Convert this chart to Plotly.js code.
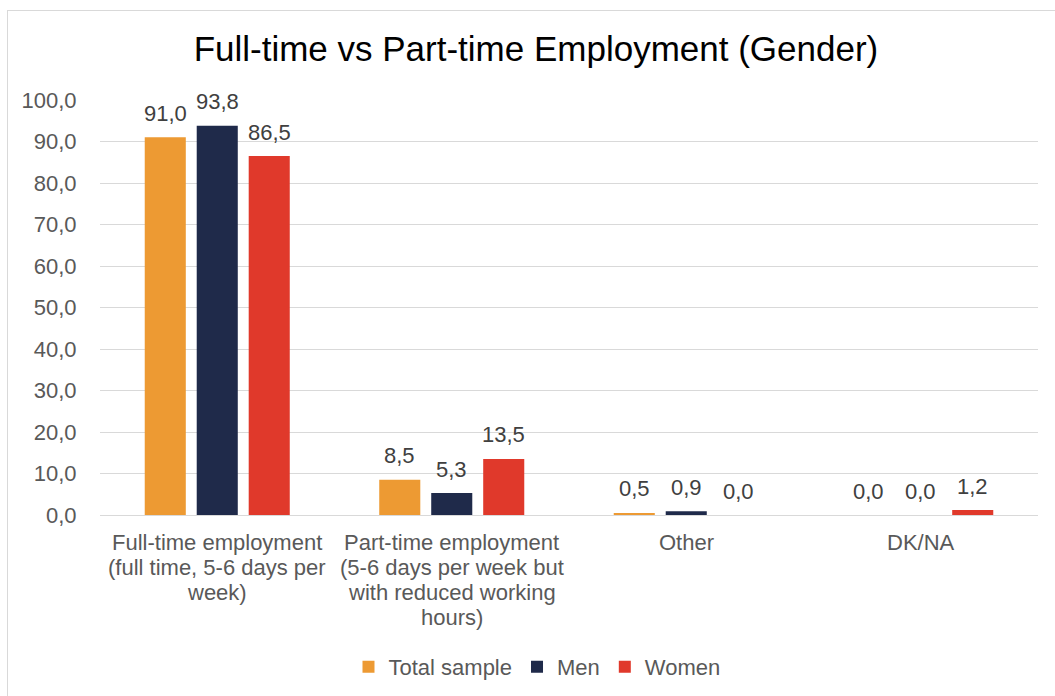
<!DOCTYPE html>
<html>
<head>
<meta charset="utf-8">
<script src="https://cdn.plot.ly/plotly-3.0.1.min.js"></script>
<style>
  html, body { margin: 0; padding: 0; background: #fff; }
  #chart { width: 1055px; height: 696px; position: absolute; left: 0; top: 0; }
  #frame { position: absolute; left: 7px; top: 10px; width: 1060px; height: 700px; border: 1px solid #d9d9d9; pointer-events: none; }
</style>
</head>
<body>
<div id="chart"></div>
<div id="frame"></div>
<script>
const categories = ["Full-time employment", "Part-time employment", "Other", "DK/NA"];
const categoryLabelLines = [
  ["Full-time employment", "(full time, 5-6 days per", "week)"],
  ["Part-time employment", "(5-6 days per week but", "with reduced working", "hours)"],
  ["Other"],
  ["DK/NA"]
];
const seriesNames = ["Total sample", "Men", "Women"];
const totalSample = [91.0, 8.5, 0.5, 0.0];
const men = [93.8, 5.3, 0.9, 0.0];
const women = [86.5, 13.5, 0.0, 1.2];
const colors = ["#ED9A33", "#1F2A4A", "#E0392B"];
const yTicks = [0, 10, 20, 30, 40, 50, 60, 70, 80, 90, 100];

const FONT = "Liberation Sans, Arial, sans-serif";
const BARGAP = 0.335;
const allValues = [totalSample, men, women];
const traces = allValues.map((vals, i) => ({
  type: "bar",
  name: seriesNames[i],
  x: categories,
  y: vals,
  marker: { color: colors[i] },
  hoverinfo: "skip"
}));

const annotations = [];
// value labels above each bar (positioned through the axes)
const slot = (1 - BARGAP) / allValues.length;
allValues.forEach((vals, i) => {
  vals.forEach((v, ci) => {
    annotations.push({
      x: ci + (i - (allValues.length - 1) / 2) * slot, xref: "x",
      y: v, yref: "y",
      xanchor: "center", yanchor: "middle",
      yshift: 24,
      text: v.toFixed(1).replace(".", ","),
      showarrow: false,
      font: { size: 22, color: "#404040", family: FONT }
    });
  });
});
// category labels
categoryLabelLines.forEach((lines, ci) => {
  lines.forEach((line, li) => {
    annotations.push({
      x: categories[ci], xref: "x",
      y: 0, yref: "paper",
      yanchor: "middle", xanchor: "center",
      yshift: -(27 + li * 25.3),
      text: line,
      showarrow: false,
      font: { size: 22, color: "#595959", family: FONT }
    });
  });
});

const layout = {
  width: 1055,
  height: 696,
  margin: { l: 100, r: 17, t: 100, b: 181 },
  paper_bgcolor: "#ffffff",
  plot_bgcolor: "#ffffff",
  font: { family: FONT, color: "#595959", size: 22 },
  separators: ",.",
  title: {
    text: "Full-time vs Part-time Employment (Gender)",
    font: { size: 35, color: "#000000" },
    x: 0.508, xanchor: "center",
    y: 0.93, yanchor: "middle"
  },
  barmode: "group",
  bargap: BARGAP,
  bargroupgap: 0.21,
  xaxis: {
    type: "category",
    showticklabels: false,
    showgrid: false,
    showline: false,
    ticks: "",
    automargin: false
  },
  yaxis: {
    range: [0, 100],
    tickvals: yTicks,
    ticktext: yTicks.map(v => v.toFixed(1).replace(".", ",")),
    showgrid: true,
    gridcolor: "#d9d9d9",
    gridwidth: 1,
    zeroline: true,
    zerolinecolor: "#d9d9d9",
    zerolinewidth: 1,
    ticks: "outside",
    ticklen: 18,
    tickcolor: "rgba(0,0,0,0)",
    tickfont: { size: 22, color: "#595959" },
    automargin: false
  },
  annotations: annotations,
  legend: {
    orientation: "h",
    xref: "container", yref: "container",
    x: 0.509, xanchor: "center",
    y: 1 - 667 / 696, yanchor: "middle",
    font: { size: 22, color: "#595959" },
    traceorder: "normal",
    itemwidth: 30
  },
  showlegend: true
};

Plotly.newPlot("chart", traces, layout, { displayModeBar: false, staticPlot: true });
</script>
</body>
</html>
